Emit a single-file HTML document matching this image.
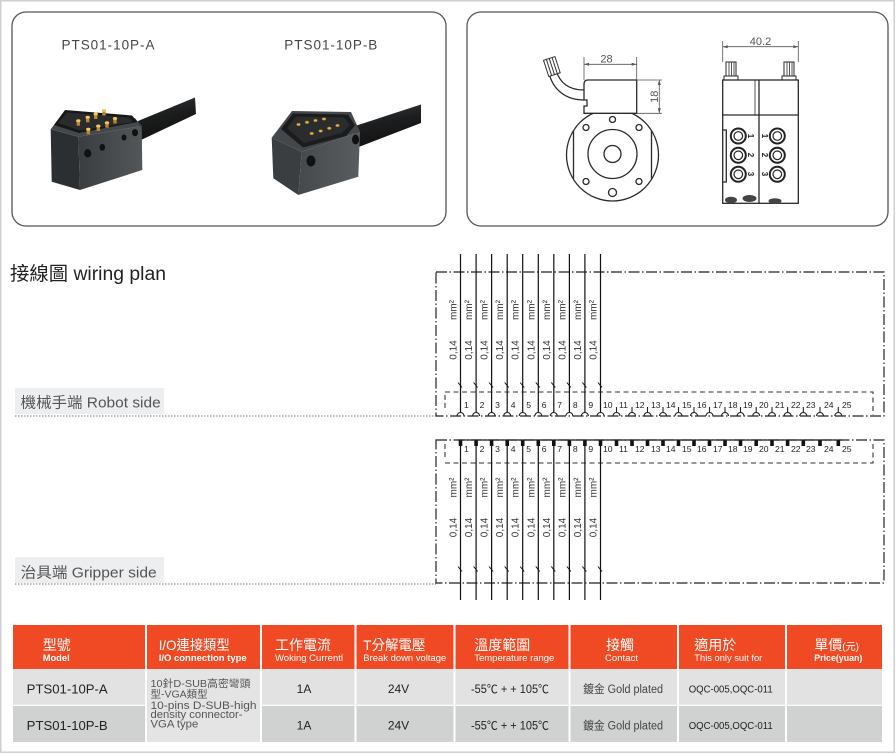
<!DOCTYPE html>
<html><head><meta charset="utf-8">
<style>
html,body{margin:0;padding:0;background:#fff;}
body{width:896px;height:754px;overflow:hidden;position:relative;}
svg{position:absolute;left:0;top:0;}
text{font-family:"Liberation Sans","Noto Sans CJK TC",sans-serif;}
.wt{font-size:10px;fill:#333;text-anchor:middle;}
.pn{font-size:8.6px;fill:#222;}
.hz{font-size:14px;fill:#fff;}
.he{font-size:9.5px;fill:#fff;}
</style></head><body>
<svg width="896" height="754" viewBox="0 0 896 754" xmlns="http://www.w3.org/2000/svg">
<defs>
<linearGradient id="ga" x1="0" y1="0" x2="1" y2="0"><stop offset="0" stop-color="#3a3d40"/><stop offset="1" stop-color="#54575a"/></linearGradient>
<linearGradient id="gb" x1="0" y1="0" x2="1" y2="0"><stop offset="0" stop-color="#46494c"/><stop offset="1" stop-color="#5a5d60"/></linearGradient>
<linearGradient id="gc" x1="0" y1="0" x2="0.3" y2="1"><stop offset="0" stop-color="#3a3b3d"/><stop offset="0.5" stop-color="#1c1d1e"/><stop offset="1" stop-color="#111"/></linearGradient>
</defs>
<rect x="0.75" y="0.75" width="893.5" height="751.5" fill="#fff" stroke="#cfcfcf" stroke-width="1.5"/>

<!-- top panels -->
<rect x="12" y="12" width="434" height="214" rx="14" fill="#fff" stroke="#555" stroke-width="1.3"/>
<rect x="467" y="12" width="421" height="214" rx="14" fill="#fff" stroke="#555" stroke-width="1.3"/>
<text x="61.5" y="49.5" font-size="13.5" fill="#444" textLength="93" lengthAdjust="spacing">PTS01-10P-A</text>
<text x="284.3" y="49.5" font-size="13.5" fill="#444" textLength="93" lengthAdjust="spacing">PTS01-10P-B</text>

<!-- photo A -->
<polygon points="138,121 195,97.5 196,114 141,140" fill="url(#gc)"/>
<polygon points="50.7,129.3 78.3,136.7 80,190 51.7,181.7" fill="#2c2f32"/>
<polygon points="78.3,136.7 141.7,126 142.3,170 80,190" fill="url(#ga)"/>
<polygon points="50.7,129.3 63.3,112.7 135,118.3 141.7,126 78.3,136.7" fill="#45484b"/>
<polygon points="54,125 65,110 132,115.5 137.5,122 79,133" fill="#161718"/>
<polygon points="58,123 67,112.5 129,117.5 133,122 80,130.5" fill="#2a2b2c"/>
<g fill="#b8862c">
<rect x="76.6" y="120.7" width="3.4" height="5"/><rect x="86" y="117.3" width="3.4" height="5"/><rect x="94" y="114" width="3.4" height="5"/><rect x="102.3" y="110.5" width="3.4" height="5"/>
<rect x="86.6" y="129.3" width="3.4" height="5"/><rect x="96.6" y="126" width="3.4" height="5"/><rect x="105.3" y="122.7" width="3.4" height="5"/><rect x="113.3" y="118.5" width="3.4" height="5"/>
</g>
<g fill="#f0c860">
<ellipse cx="78.3" cy="120.7" rx="2.2" ry="1.5"/><ellipse cx="87.7" cy="117.3" rx="2.2" ry="1.5"/><ellipse cx="95.7" cy="114" rx="2.2" ry="1.5"/><ellipse cx="104" cy="110.5" rx="2.2" ry="1.5"/>
<ellipse cx="88.3" cy="129.3" rx="2.2" ry="1.5"/><ellipse cx="98.3" cy="126" rx="2.2" ry="1.5"/><ellipse cx="107" cy="122.7" rx="2.2" ry="1.5"/><ellipse cx="115" cy="118.5" rx="2.2" ry="1.5"/>
</g>
<g fill="#111">
<ellipse cx="87.7" cy="153.3" rx="3.6" ry="4.2"/><ellipse cx="102.3" cy="147.3" rx="2.8" ry="3.4"/><ellipse cx="124" cy="137.5" rx="2.5" ry="3"/><ellipse cx="135" cy="132.7" rx="3" ry="3.6"/>
</g>

<!-- photo B -->
<polygon points="355,126 421,104.5 421,123 356,148" fill="url(#gc)"/>
<polygon points="271.7,137.7 301.7,151.7 298.3,195 273.3,178.3" fill="#3b3e41"/>
<polygon points="301.7,151.7 360,131.7 358.3,176.7 298.3,195" fill="url(#gb)"/>
<polygon points="271.7,137.7 292,111 351,112 360,131.7 301.7,151.7" fill="#45484b"/>
<polygon points="281,129 293,113.5 348,114.5 355,125.5 346,136 303,147.5" fill="#1b1c1d"/>
<polygon points="287,128 296,116.5 344,117.5 350,125 342,133 304,143" fill="#2b2c2d"/>
<g fill="#e0b04a" stroke="#8a6520" stroke-width="0.5">
<ellipse cx="298.5" cy="124.5" rx="2" ry="1.4"/><ellipse cx="307" cy="122.3" rx="2" ry="1.4"/><ellipse cx="315.5" cy="120.5" rx="2" ry="1.4"/><ellipse cx="324" cy="119" rx="2" ry="1.4"/>
<ellipse cx="311.7" cy="133.5" rx="2" ry="1.4"/><ellipse cx="320.7" cy="131" rx="2" ry="1.4"/><ellipse cx="329.3" cy="128.3" rx="2" ry="1.4"/><ellipse cx="337.5" cy="125.5" rx="2" ry="1.4"/>
</g>
<g fill="#111">
<ellipse cx="311" cy="161" rx="4.5" ry="5.5"/><ellipse cx="355.5" cy="139.5" rx="3.5" ry="5"/>
</g>

<!-- drawing: round flange -->
<g stroke="#2a2a2a" stroke-width="1.3" fill="none">
<circle cx="612.5" cy="155" r="46"/>
<line x1="573.5" y1="131" x2="573.5" y2="179"/>
<line x1="651.5" y1="131" x2="651.5" y2="179"/>
<circle cx="612.5" cy="154" r="24.5"/>
<circle cx="612.5" cy="154" r="8.5"/>
<circle cx="586" cy="127.5" r="3"/><circle cx="639" cy="127.5" r="3"/><circle cx="612.5" cy="119.5" r="3"/>
<circle cx="586" cy="181.5" r="3"/><circle cx="639" cy="181.5" r="3"/><circle cx="612.5" cy="192.5" r="4"/>
<path d="M588 80 H636.7 V113.3 H584 V106 H587 V100 H584 V84 Q584 80 588 80 Z" fill="#fff"/>
<path d="M584 90 C570 90 560 84 556 70"/>
<path d="M584 100 C566 100 553 90 549 73"/>
</g>
<g transform="rotate(-18 552 67)" stroke="#333" stroke-width="1" fill="#fff">
<rect x="546" y="58" width="12" height="17"/>
<line x1="549" y1="58" x2="549" y2="75"/><line x1="552" y1="58" x2="552" y2="75"/><line x1="555" y1="58" x2="555" y2="75"/>
</g>
<g stroke="#555" stroke-width="0.8" fill="none">
<line x1="584" y1="57" x2="584" y2="80"/><line x1="636.7" y1="57" x2="636.7" y2="80"/>
<line x1="584" y1="64.3" x2="636.7" y2="64.3"/>
<line x1="636.7" y1="80" x2="662" y2="80"/><line x1="636.7" y1="113.3" x2="662" y2="113.3"/>
<line x1="659.3" y1="80" x2="659.3" y2="113.3"/>
<line x1="722.7" y1="41" x2="722.7" y2="62"/><line x1="798.3" y1="41" x2="798.3" y2="62"/>
<line x1="722.7" y1="46.7" x2="798.3" y2="46.7"/>
</g>
<g fill="#555">
<polygon points="584,64.3 589,62.8 589,65.8"/><polygon points="636.7,64.3 631.7,62.8 631.7,65.8"/>
<polygon points="659.3,80 657.8,85 660.8,85"/><polygon points="659.3,113.3 657.8,108.3 660.8,108.3"/>
<polygon points="722.7,46.7 727.7,45.2 727.7,48.2"/><polygon points="798.3,46.7 793.3,45.2 793.3,48.2"/>
</g>
<text x="606.5" y="62.5" font-size="11" fill="#555" text-anchor="middle">28</text>
<text transform="translate(654 96.7) rotate(-90)" y="4" font-size="11" fill="#555" text-anchor="middle">18</text>
<text x="760.5" y="45" font-size="11" fill="#555" text-anchor="middle">40.2</text>

<!-- drawing: block -->
<g stroke="#2a2a2a" stroke-width="1.3" fill="none">
<rect x="722.7" y="80" width="75.6" height="123.3"/>
<line x1="759" y1="80" x2="759" y2="203.3"/>
<line x1="755" y1="80" x2="755" y2="115" stroke-width="0.8"/>
<line x1="722.7" y1="115" x2="798.3" y2="115"/>
<path d="M722.7 130 H726.3 V182 H722.7"/>
<rect x="726" y="62" width="10" height="14" stroke-width="1"/>
<rect x="724" y="76" width="14" height="4" stroke-width="1"/>
<line x1="729" y1="62" x2="729" y2="76" stroke-width="0.8"/><line x1="731.5" y1="62" x2="731.5" y2="76" stroke-width="0.8"/><line x1="734" y1="62" x2="734" y2="76" stroke-width="0.8"/>
<rect x="784" y="62" width="10" height="14" stroke-width="1"/>
<rect x="782" y="76" width="14" height="4" stroke-width="1"/>
<line x1="787" y1="62" x2="787" y2="76" stroke-width="0.8"/><line x1="789.5" y1="62" x2="789.5" y2="76" stroke-width="0.8"/><line x1="792" y1="62" x2="792" y2="76" stroke-width="0.8"/>
</g>
<g stroke="#222" fill="#fff">
<circle cx="738.3" cy="136" r="7.5" stroke-width="2"/><circle cx="738.3" cy="155.3" r="7.5" stroke-width="2"/><circle cx="738.3" cy="174.3" r="7.5" stroke-width="2"/>
<circle cx="777.3" cy="136" r="7.5" stroke-width="2"/><circle cx="777.3" cy="155.3" r="7.5" stroke-width="2"/><circle cx="777.3" cy="174.3" r="7.5" stroke-width="2"/>
<circle cx="738.3" cy="136" r="4.3" stroke-width="1.2"/><circle cx="738.3" cy="155.3" r="4.3" stroke-width="1.2"/><circle cx="738.3" cy="174.3" r="4.3" stroke-width="1.2"/>
<circle cx="777.3" cy="136" r="4.3" stroke-width="1.2"/><circle cx="777.3" cy="155.3" r="4.3" stroke-width="1.2"/><circle cx="777.3" cy="174.3" r="4.3" stroke-width="1.2"/>
</g>
<g font-size="8" font-weight="bold" fill="#222" text-anchor="middle">
<text transform="translate(751 136) rotate(90)" y="3">1</text><text transform="translate(765 136) rotate(90)" y="3">1</text>
<text transform="translate(751 155) rotate(90)" y="3">2</text><text transform="translate(765 155) rotate(90)" y="3">2</text>
<text transform="translate(751 174) rotate(90)" y="3">3</text><text transform="translate(765 174) rotate(90)" y="3">3</text>
</g>
<g fill="#444">
<ellipse cx="731" cy="200" rx="6" ry="3.3"/><ellipse cx="749.5" cy="198.5" rx="7" ry="3.5"/><ellipse cx="775" cy="201" rx="6.5" ry="2.8"/>
</g>

<!-- wiring plan labels -->
<text x="10" y="280" font-size="19" fill="#222" textLength="156" lengthAdjust="spacingAndGlyphs">接線圖 wiring plan</text>
<rect x="15" y="388" width="149" height="26" rx="2" fill="#eceef0"/>
<text x="20.7" y="407.5" font-size="15" fill="#555" textLength="140" lengthAdjust="spacingAndGlyphs">機械手端 Robot side</text>
<line x1="15" y1="416" x2="436" y2="416" stroke="#777" stroke-width="1" stroke-dasharray="1.5 1.5"/>
<rect x="15" y="557" width="149" height="26" rx="2" fill="#eceef0"/>
<text x="20.7" y="577.5" font-size="15" fill="#555" textLength="136" lengthAdjust="spacingAndGlyphs">治具端 Gripper side</text>
<line x1="15" y1="584" x2="436" y2="584" stroke="#777" stroke-width="1" stroke-dasharray="1.5 1.5"/>

<!-- TOP wiring section -->
<rect x="436" y="272" width="448" height="144" fill="none" stroke="#222" stroke-width="1.2" stroke-dasharray="11 2.5 1.5 2.5"/>
<path d="M445 392 H873 V415" fill="none" stroke="#333" stroke-width="1.1" stroke-dasharray="5 3.5"/>
<path d="M445 395 V411" fill="none" stroke="#777" stroke-width="1.6" stroke-dasharray="5 3"/>
<path d="M460.5 254V412.5M476.1 254V412.5M491.6 254V412.5M507.2 254V412.5M522.7 254V412.5M538.3 254V412.5M553.8 254V412.5M569.4 254V412.5M584.9 254V412.5M600.5 254V412.5" stroke="#111" stroke-width="1.2" fill="none"/>
<path d="M458 382.5l4 5M473.6 382.5l4 5M489.1 382.5l4 5M504.7 382.5l4 5M520.2 382.5l4 5M535.8 382.5l4 5M551.3 382.5l4 5M566.9 382.5l4 5M582.4 382.5l4 5M598 382.5l4 5" stroke="#111" stroke-width="1" fill="none"/>
<path d="M457 416a3.5 3.5 0 0 1 7 0M472.6 416a3.5 3.5 0 0 1 7 0M488.1 416a3.5 3.5 0 0 1 7 0M503.7 416a3.5 3.5 0 0 1 7 0M519.2 416a3.5 3.5 0 0 1 7 0M534.8 416a3.5 3.5 0 0 1 7 0M550.3 416a3.5 3.5 0 0 1 7 0M565.9 416a3.5 3.5 0 0 1 7 0M581.4 416a3.5 3.5 0 0 1 7 0M597 416a3.5 3.5 0 0 1 7 0M613 416a3.5 3.5 0 0 1 7 0M628.5 416a3.5 3.5 0 0 1 7 0M644 416a3.5 3.5 0 0 1 7 0M659.5 416a3.5 3.5 0 0 1 7 0M675 416a3.5 3.5 0 0 1 7 0M690.5 416a3.5 3.5 0 0 1 7 0M706 416a3.5 3.5 0 0 1 7 0M721.5 416a3.5 3.5 0 0 1 7 0M737 416a3.5 3.5 0 0 1 7 0M752.7 416a3.5 3.5 0 0 1 7 0M768.5 416a3.5 3.5 0 0 1 7 0M784.1 416a3.5 3.5 0 0 1 7 0M799.8 416a3.5 3.5 0 0 1 7 0M816.5 416a3.5 3.5 0 0 1 7 0M834.8 416a3.5 3.5 0 0 1 7 0" stroke="#222" stroke-width="1.1" fill="none"/>
<path d="M616.5 407V412.5M632 407V412.5M647.5 407V412.5M663 407V412.5M678.5 407V412.5M694 407V412.5M709.5 407V412.5M725 407V412.5M740.5 407V412.5M756.2 407V412.5M772 407V412.5M787.6 407V412.5M803.3 407V412.5M820 407V412.5M838.3 407V412.5" stroke="#222" stroke-width="1.1" fill="none"/>
<g class="wt">
<text transform="translate(453 310) rotate(-90)" y="3.5">mm²</text><text transform="translate(453 350) rotate(-90)" y="3.5">0,14</text>
<text transform="translate(468.6 310) rotate(-90)" y="3.5">mm²</text><text transform="translate(468.6 350) rotate(-90)" y="3.5">0,14</text>
<text transform="translate(484.1 310) rotate(-90)" y="3.5">mm²</text><text transform="translate(484.1 350) rotate(-90)" y="3.5">0,14</text>
<text transform="translate(499.7 310) rotate(-90)" y="3.5">mm²</text><text transform="translate(499.7 350) rotate(-90)" y="3.5">0,14</text>
<text transform="translate(515.2 310) rotate(-90)" y="3.5">mm²</text><text transform="translate(515.2 350) rotate(-90)" y="3.5">0,14</text>
<text transform="translate(530.8 310) rotate(-90)" y="3.5">mm²</text><text transform="translate(530.8 350) rotate(-90)" y="3.5">0,14</text>
<text transform="translate(546.3 310) rotate(-90)" y="3.5">mm²</text><text transform="translate(546.3 350) rotate(-90)" y="3.5">0,14</text>
<text transform="translate(561.9 310) rotate(-90)" y="3.5">mm²</text><text transform="translate(561.9 350) rotate(-90)" y="3.5">0,14</text>
<text transform="translate(577.4 310) rotate(-90)" y="3.5">mm²</text><text transform="translate(577.4 350) rotate(-90)" y="3.5">0,14</text>
<text transform="translate(593 310) rotate(-90)" y="3.5">mm²</text><text transform="translate(593 350) rotate(-90)" y="3.5">0,14</text>
</g>
<g class="pn">
<text x="464" y="408">1</text><text x="479.6" y="408">2</text><text x="495.1" y="408">3</text><text x="510.7" y="408">4</text><text x="526.2" y="408">5</text><text x="541.8" y="408">6</text><text x="557.3" y="408">7</text><text x="572.9" y="408">8</text><text x="588.4" y="408">9</text>
<text x="603" y="408">10</text><text x="619" y="408">11</text><text x="635" y="408">12</text><text x="651" y="408">13</text><text x="666" y="408">14</text><text x="682" y="408">15</text><text x="697" y="408">16</text><text x="713" y="408">17</text><text x="728" y="408">18</text><text x="743" y="408">19</text><text x="759" y="408">20</text><text x="775" y="408">21</text><text x="791" y="408">22</text><text x="806" y="408">23</text><text x="824" y="408">24</text><text x="842" y="408">25</text>
</g>

<!-- BOTTOM wiring section -->
<rect x="436" y="440" width="448" height="143" fill="none" stroke="#222" stroke-width="1.2" stroke-dasharray="11 2.5 1.5 2.5"/>
<path d="M445 463 H873 V441" fill="none" stroke="#333" stroke-width="1.1" stroke-dasharray="5 3.5"/>
<path d="M445 444 V459" fill="none" stroke="#777" stroke-width="1.6" stroke-dasharray="5 3"/>
<path d="M460.5 440V600M476.1 440V600M491.6 440V600M507.2 440V600M522.7 440V600M538.3 440V600M553.8 440V600M569.4 440V600M584.9 440V600M600.5 440V600" stroke="#111" stroke-width="1.2" fill="none"/>
<path d="M458 566.5l4 5M473.6 566.5l4 5M489.1 566.5l4 5M504.7 566.5l4 5M520.2 566.5l4 5M535.8 566.5l4 5M551.3 566.5l4 5M566.9 566.5l4 5M582.4 566.5l4 5M598 566.5l4 5" stroke="#111" stroke-width="1" fill="none"/>
<g fill="#111">
<rect x="458.7" y="440" width="3.6" height="6"/><rect x="474.3" y="440" width="3.6" height="6"/><rect x="489.8" y="440" width="3.6" height="6"/><rect x="505.4" y="440" width="3.6" height="6"/><rect x="520.9" y="440" width="3.6" height="6"/><rect x="536.5" y="440" width="3.6" height="6"/><rect x="552" y="440" width="3.6" height="6"/><rect x="567.6" y="440" width="3.6" height="6"/><rect x="583.1" y="440" width="3.6" height="6"/><rect x="598.7" y="440" width="3.6" height="6"/>
<rect x="614.7" y="440" width="3.6" height="6"/><rect x="630.2" y="440" width="3.6" height="6"/><rect x="645.7" y="440" width="3.6" height="6"/><rect x="661.2" y="440" width="3.6" height="6"/><rect x="676.7" y="440" width="3.6" height="6"/><rect x="692.2" y="440" width="3.6" height="6"/><rect x="707.7" y="440" width="3.6" height="6"/><rect x="723.2" y="440" width="3.6" height="6"/><rect x="738.7" y="440" width="3.6" height="6"/><rect x="754.4" y="440" width="3.6" height="6"/><rect x="770.2" y="440" width="3.6" height="6"/><rect x="785.8" y="440" width="3.6" height="6"/><rect x="801.5" y="440" width="3.6" height="6"/><rect x="818.2" y="440" width="3.6" height="6"/><rect x="836.5" y="440" width="3.6" height="6"/>
</g>
<line x1="458" y1="440" x2="842" y2="440" stroke="#222" stroke-width="1.2"/>
<g class="wt">
<text transform="translate(453 487.5) rotate(-90)" y="3.5">mm²</text><text transform="translate(453 527.5) rotate(-90)" y="3.5">0,14</text>
<text transform="translate(468.6 487.5) rotate(-90)" y="3.5">mm²</text><text transform="translate(468.6 527.5) rotate(-90)" y="3.5">0,14</text>
<text transform="translate(484.1 487.5) rotate(-90)" y="3.5">mm²</text><text transform="translate(484.1 527.5) rotate(-90)" y="3.5">0,14</text>
<text transform="translate(499.7 487.5) rotate(-90)" y="3.5">mm²</text><text transform="translate(499.7 527.5) rotate(-90)" y="3.5">0,14</text>
<text transform="translate(515.2 487.5) rotate(-90)" y="3.5">mm²</text><text transform="translate(515.2 527.5) rotate(-90)" y="3.5">0,14</text>
<text transform="translate(530.8 487.5) rotate(-90)" y="3.5">mm²</text><text transform="translate(530.8 527.5) rotate(-90)" y="3.5">0,14</text>
<text transform="translate(546.3 487.5) rotate(-90)" y="3.5">mm²</text><text transform="translate(546.3 527.5) rotate(-90)" y="3.5">0,14</text>
<text transform="translate(561.9 487.5) rotate(-90)" y="3.5">mm²</text><text transform="translate(561.9 527.5) rotate(-90)" y="3.5">0,14</text>
<text transform="translate(577.4 487.5) rotate(-90)" y="3.5">mm²</text><text transform="translate(577.4 527.5) rotate(-90)" y="3.5">0,14</text>
<text transform="translate(593 487.5) rotate(-90)" y="3.5">mm²</text><text transform="translate(593 527.5) rotate(-90)" y="3.5">0,14</text>
</g>
<g class="pn">
<text x="464" y="452">1</text><text x="479.6" y="452">2</text><text x="495.1" y="452">3</text><text x="510.7" y="452">4</text><text x="526.2" y="452">5</text><text x="541.8" y="452">6</text><text x="557.3" y="452">7</text><text x="572.9" y="452">8</text><text x="588.4" y="452">9</text>
<text x="603" y="452">10</text><text x="619" y="452">11</text><text x="635" y="452">12</text><text x="651" y="452">13</text><text x="666" y="452">14</text><text x="682" y="452">15</text><text x="697" y="452">16</text><text x="713" y="452">17</text><text x="728" y="452">18</text><text x="743" y="452">19</text><text x="759" y="452">20</text><text x="775" y="452">21</text><text x="791" y="452">22</text><text x="806" y="452">23</text><text x="824" y="452">24</text><text x="842" y="452">25</text>
</g>

<!-- TABLE -->
<rect x="13" y="625" width="869" height="44" fill="#ef4a24"/>
<rect x="13" y="669" width="869" height="36" fill="#e2e2e2"/>
<rect x="13" y="705" width="869" height="37" fill="#d0d1d1"/>
<rect x="146" y="669" width="115" height="73" fill="#e4e4e4"/>
<line x1="13" y1="705.3" x2="146" y2="705.3" stroke="#fff" stroke-width="1.2"/>
<line x1="261" y1="705.3" x2="882" y2="705.3" stroke="#fff" stroke-width="1.2"/>
<g stroke="#fff" stroke-width="2">
<line x1="146" y1="625" x2="146" y2="742"/><line x1="261" y1="625" x2="261" y2="742"/><line x1="355.5" y1="625" x2="355.5" y2="742"/><line x1="454.5" y1="625" x2="454.5" y2="742"/><line x1="569.5" y1="625" x2="569.5" y2="742"/><line x1="678" y1="625" x2="678" y2="742"/><line x1="786" y1="625" x2="786" y2="742"/>
</g>
<text class="hz" x="42.7" y="650">型號</text>
<text class="he" x="42.7" y="661" font-size="10" font-weight="bold" textLength="27" lengthAdjust="spacingAndGlyphs">Model</text>
<text class="hz" x="158.7" y="650" textLength="71" lengthAdjust="spacingAndGlyphs">I/O連接類型</text>
<text class="he" x="158.7" y="661" font-weight="bold" textLength="88" lengthAdjust="spacingAndGlyphs">I/O connection type</text>
<text class="hz" x="275" y="650">工作電流</text>
<text class="he" x="275" y="661" textLength="68" lengthAdjust="spacingAndGlyphs">Woking Currentl</text>
<text class="hz" x="363.3" y="650" textLength="62" lengthAdjust="spacingAndGlyphs">T分解電壓</text>
<text class="he" x="363.3" y="661" textLength="83" lengthAdjust="spacingAndGlyphs">Break down voltage</text>
<text class="hz" x="474.3" y="650">溫度範圍</text>
<text class="he" x="474.3" y="661" textLength="80" lengthAdjust="spacingAndGlyphs">Temperature range</text>
<text class="hz" x="606" y="650">接觸</text>
<text class="he" x="605" y="661" textLength="33" lengthAdjust="spacingAndGlyphs">Contact</text>
<text class="hz" x="694.3" y="650">適用於</text>
<text class="he" x="694.3" y="661" textLength="68" lengthAdjust="spacingAndGlyphs">This only suit for</text>
<text class="hz" x="814.3" y="650">單價<tspan font-size="10">(元)</tspan></text>
<text class="he" x="814.3" y="661" font-size="9" font-weight="bold" textLength="48" lengthAdjust="spacingAndGlyphs">Price(yuan)</text>

<text x="26.7" y="693.5" font-size="13" fill="#222" textLength="81" lengthAdjust="spacingAndGlyphs">PTS01-10P-A</text>
<text x="26.7" y="730" font-size="13" fill="#222" textLength="81" lengthAdjust="spacingAndGlyphs">PTS01-10P-B</text>
<g fill="#555">
<text x="150.5" y="687" font-size="10.5" textLength="100" lengthAdjust="spacingAndGlyphs">10針D-SUB高密彎頭</text>
<text x="150.5" y="697.5" font-size="10.5">型-VGA類型</text>
<text x="150.5" y="709" font-size="11.3" textLength="106" lengthAdjust="spacingAndGlyphs">10-pins D-SUB-high</text>
<text x="150.5" y="718" font-size="11.3" textLength="92" lengthAdjust="spacingAndGlyphs">density connector-</text>
<text x="150.5" y="727.5" font-size="11.3">VGA type</text>
</g>
<g font-size="12" fill="#222" text-anchor="middle">
<text x="304" y="693">1A</text><text x="304" y="729.5">1A</text>
<text x="398.5" y="693">24V</text><text x="398.5" y="729.5">24V</text>
</g>
<text x="471" y="693" font-size="11.5" fill="#222" textLength="78" lengthAdjust="spacingAndGlyphs">-55℃ + + 105℃</text>
<text x="471" y="729.5" font-size="11.5" fill="#222" textLength="78" lengthAdjust="spacingAndGlyphs">-55℃ + + 105℃</text>
<text x="583" y="693" font-size="11.5" fill="#444" textLength="80" lengthAdjust="spacingAndGlyphs">鍍金 Gold plated</text>
<text x="583" y="729.5" font-size="11.5" fill="#444" textLength="80" lengthAdjust="spacingAndGlyphs">鍍金 Gold plated</text>
<text x="688.7" y="692.5" font-size="10" fill="#222" textLength="84" lengthAdjust="spacingAndGlyphs">OQC-005,OQC-011</text>
<text x="688.7" y="729" font-size="10" fill="#222" textLength="84" lengthAdjust="spacingAndGlyphs">OQC-005,OQC-011</text>
</svg>
</body></html>
